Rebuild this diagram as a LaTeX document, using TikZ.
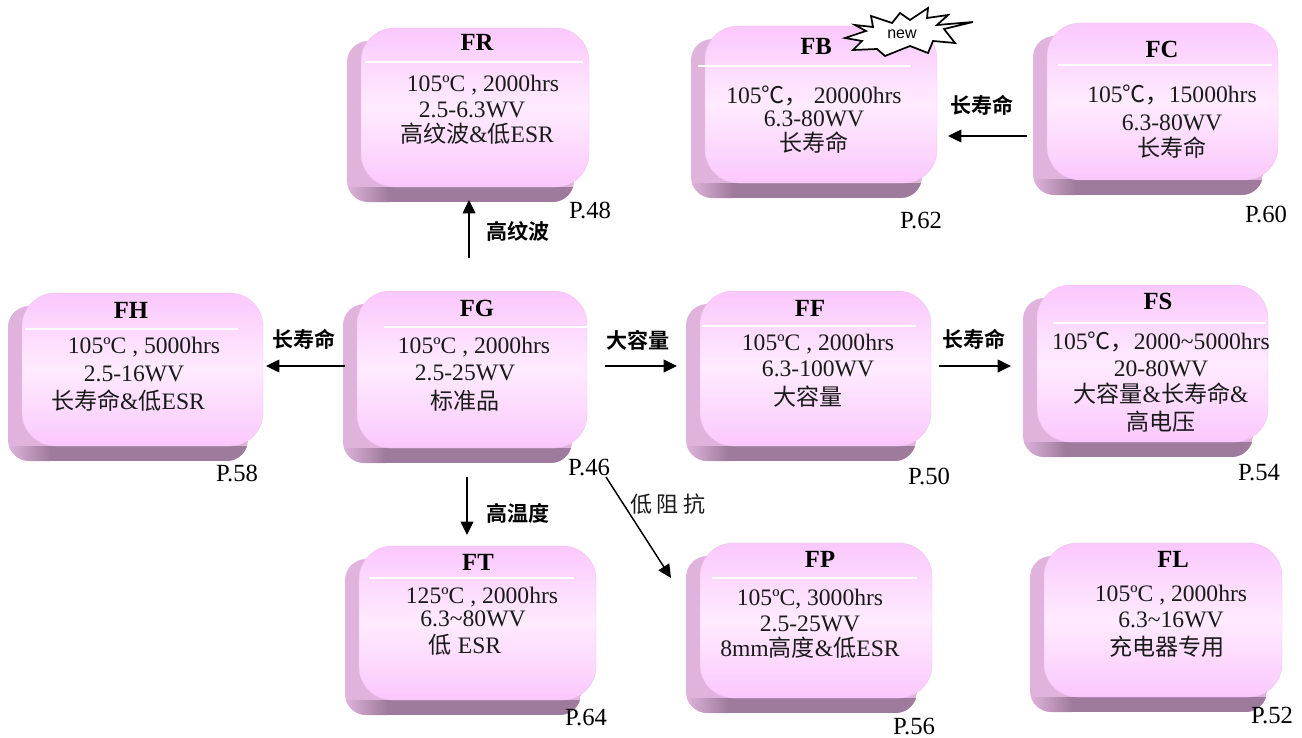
\documentclass[tikz,border=0pt]{standalone}
\usepackage{fontspec}
\setmainfont{Liberation Serif}
\newfontfamily\cjk{Noto Sans CJK SC}
\newfontfamily\cjkb{Noto Sans CJK SC Bold}
\newfontfamily\arialf{Liberation Sans}
\usetikzlibrary{arrows.meta}
\definecolor{shLight}{HTML}{DFB3DC}
\definecolor{shDark}{HTML}{9E7B9C}
\definecolor{faceEnd}{HTML}{FAC8FC}
\definecolor{faceMid}{HTML}{FFEBFF}
\definecolor{faceEdge}{HTML}{F2C2F2}
\definecolor{txt}{HTML}{1A1A1A}
\newcommand{\zh}[1]{{\cjk\fontsize{17.3}{18}\selectfont #1}}
% args: name, shadow L, face L, face T, face R, face B, shadow B
\newcommand{\cardbox}[7]{%
  \begin{scope}
    \clip[rounded corners=16] (#2,#4+13) rectangle (#5-15,#7);
    \fill[shLight] (#2,#4+13) rectangle (#5-15,#7);
    \shade[left color=shLight,right color=shDark] (#2,#6) rectangle (#2+42,#7);
    \fill[shDark] (#2+42,#6) rectangle (#5-15,#7);
  \end{scope}
  \path[rounded corners=25,draw=faceEdge,line width=.3pt,top color=faceEnd,bottom color=faceEnd,middle color=faceMid]
    (#3,#4) rectangle (#5,#6);
  \coordinate (#1-nw) at (#3,#4);
  \coordinate (#1-se) at (#5,#6);
}
\newcommand{\cardrule}[4]{\coordinate (#1-a) at (#2,#4); \coordinate (#1-b) at (#3,#4); \draw[white,line width=1.5pt] (#1-a) -- (#1-b);}
\tikzset{
  title/.style={font=\bfseries\fontsize{18.5}{20}\selectfont,inner sep=0pt,text=black},
  body/.style={font=\fontsize{17.7}{18}\selectfont,inner sep=0pt,text=txt},
  pagenum/.style={font=\fontsize{18.5}{20}\selectfont,inner sep=0pt,text=black},
  arrowlabel/.style={font=\cjkb\fontsize{15.8}{16}\selectfont,inner sep=0pt,text=black},
  conn/.style={draw=black,line width=1.1pt,-{Triangle[length=10pt,width=9.5pt]}},
}
\begin{document}
\begin{tikzpicture}[x=0.75pt,y=-0.75pt]
\useasboundingbox (0,0) rectangle (1302,738);
% cards
\cardbox{FR}{347}{361}{28}{589}{187}{202}
\cardbox{FB}{691}{705}{26}{937}{183}{198}
\cardbox{FC}{1033}{1047}{23}{1278}{180}{195}
\cardbox{FH}{8}{22}{293}{263}{446}{461}
\cardbox{FG}{343}{357}{291}{587}{448}{463}
\cardbox{FF}{686}{700}{291}{931}{446}{461}
\cardbox{FS}{1023}{1037}{285}{1268}{442}{457}
\cardbox{FT}{345}{359}{546}{596}{700}{715}
\cardbox{FP}{686}{700}{543}{932}{698}{713}
\cardbox{FL}{1030}{1044}{543}{1282}{697}{712}
% rules
\cardrule{rFR}{365}{583}{62}
\cardrule{rFB}{698}{911}{66}
\cardrule{rFC}{1058}{1272}{65}
\cardrule{rFH}{25}{238}{329}
\cardrule{rFG}{384}{587}{327}
\cardrule{rFF}{702}{916}{326}
\cardrule{rFS}{1053}{1266}{323}
\cardrule{rFT}{369}{574}{578}
\cardrule{rFP}{712}{917}{578}
% FR
\node[title] (tFR) at (477,42) {FR};
\node[body] (FR1) at (483,85) {105ºC , 2000hrs};
\node[body] (FR2) at (472,110) {2.5-6.3WV};
\node[body] (FR3) at (477,134) {\zh{高纹波}\&\zh{低}ESR};
% FB
\node[title] (tFB) at (816,46) {FB};
\node[body] (FB1) at (814,96) {105\zh{℃，} 20000hrs};
\node[body] (FB2) at (814,119) {6.3-80WV};
\node[body] (FB3) at (814,143) {\zh{长寿命}};
% FC
\node[title] (tFC) at (1162,49) {FC};
\node[body] (FC1) at (1172,95) {105\zh{℃，}15000hrs};
\node[body] (FC2) at (1172,123) {6.3-80WV};
\node[body] (FC3) at (1172,148) {\zh{长寿命}};
% FH
\node[title] (tFH) at (131,310) {FH};
\node[body] (FH1) at (144,347) {105ºC , 5000hrs};
\node[body] (FH2) at (134,374) {2.5-16WV};
\node[body] (FH3) at (128,401) {\zh{长寿命}\&\zh{低}ESR};
% FG
\node[title] (tFG) at (477,308) {FG};
\node[body] (FG1) at (474,347) {105ºC , 2000hrs};
\node[body] (FG2) at (465,373) {2.5-25WV};
\node[body] (FG3) at (465,401) {\zh{标准品}};
% FF
\node[title] (tFF) at (810,308) {FF};
\node[body] (FF1) at (818,344) {105ºC , 2000hrs};
\node[body] (FF2) at (818,369) {6.3-100WV};
\node[body] (FF3) at (808,397) {\zh{大容量}};
% FS
\node[title] (tFS) at (1158,301) {FS};
\node[body] (FS1) at (1161,342) {105\zh{℃，}2000\textasciitilde 5000hrs};
\node[body] (FS2) at (1161,369) {20-80WV};
\node[body] (FS3) at (1161,394) {\zh{大容量}\&\zh{长寿命}\&};
\node[body] (FS4) at (1161,422) {\zh{高电压}};
% FT
\node[title] (tFT) at (478,562) {FT};
\node[body] (FT1) at (482,597) {125ºC , 2000hrs};
\node[body] (FT2) at (473,619) {6.3\textasciitilde 80WV};
\node[body] (FT3) at (465,645) {\zh{低} ESR};
% FP
\node[title] (tFP) at (820,559) {FP};
\node[body] (FP1) at (810,599) {105ºC, 3000hrs};
\node[body] (FP2) at (810,624) {2.5-25WV};
\node[body] (FP3) at (810,648) {8mm\zh{高度}\&\zh{低}ESR};
% FL
\node[title] (tFL) at (1173,559) {FL};
\node[body] (FL1) at (1171,595) {105ºC , 2000hrs};
\node[body] (FL2) at (1171,620) {6.3\textasciitilde 16WV};
\node[body] (FL3) at (1167,647) {\zh{充电器专用}};
% pages
\node[pagenum] (p48) at (590,210) {P.48};
\node[pagenum] (p62) at (921,221) {P.62};
\node[pagenum] (p60) at (1266,214) {P.60};
\node[pagenum] (p58) at (237,473) {P.58};
\node[pagenum] (p46) at (589,468) {P.46};
\node[pagenum] (p50) at (929,476) {P.50};
\node[pagenum] (p54) at (1259,473) {P.54};
\node[pagenum] (p64) at (586,718) {P.64};
\node[pagenum] (p56) at (914,727) {P.56};
\node[pagenum] (p52) at (1272,716) {P.52};
% connector ends
\coordinate (a1s) at (469,258); \coordinate (a1e) at (469,200);
\coordinate (a2s) at (1027,136); \coordinate (a2e) at (948,136);
\coordinate (a3s) at (345,366); \coordinate (a3e) at (266,366);
\coordinate (a4s) at (605,366); \coordinate (a4e) at (677,366);
\coordinate (a5s) at (939,366); \coordinate (a5e) at (1011,366);
\coordinate (a6s) at (467,477); \coordinate (a6e) at (467,535);
\coordinate (a7s) at (606,477); \coordinate (a7e) at (671,578);
\draw[conn] (a1s) -- (a1e);
\draw[conn] (a2s) -- (a2e);
\draw[conn] (a3s) -- (a3e);
\draw[conn] (a4s) -- (a4e);
\draw[conn] (a5s) -- (a5e);
\draw[conn] (a6s) -- (a6e);
\draw[conn] (a7s) -- (a7e);
% arrow labels
\node[arrowlabel] (l1) at (518,231) {高纹波};
\node[arrowlabel] (l2) at (982,105) {长寿命};
\node[arrowlabel] (l3) at (304,339) {长寿命};
\node[arrowlabel] (l4) at (638,340) {大容量};
\node[arrowlabel] (l5) at (974,339) {长寿命};
\node[arrowlabel] (l6) at (518,513) {高温度};
\node[inner sep=0pt,font=\cjk\fontsize{16.5}{17}\selectfont,text=txt] (l7) at (668,504) {低 阻 抗};
% burst
\draw[fill=white,draw=black,line width=1.3pt,line join=miter]
 (973,22)--(944,29)--(955,43)--(933,41)--(928,53)--(910,46)--(885,56)--(877,49)--(853,50)--(862,41)--(845,38)--(866,31)--(855,25)--(873,27)--(871,16)--(892,23)--(900,13)--(910,20)--(928,8)--(927,18)--(948,15)--(937,25)--cycle;
\node[inner sep=0pt,font=\arialf\fontsize{12}{13}\selectfont,text=black] (newtag) at (902,34) {new};
\end{tikzpicture}
\end{document}
